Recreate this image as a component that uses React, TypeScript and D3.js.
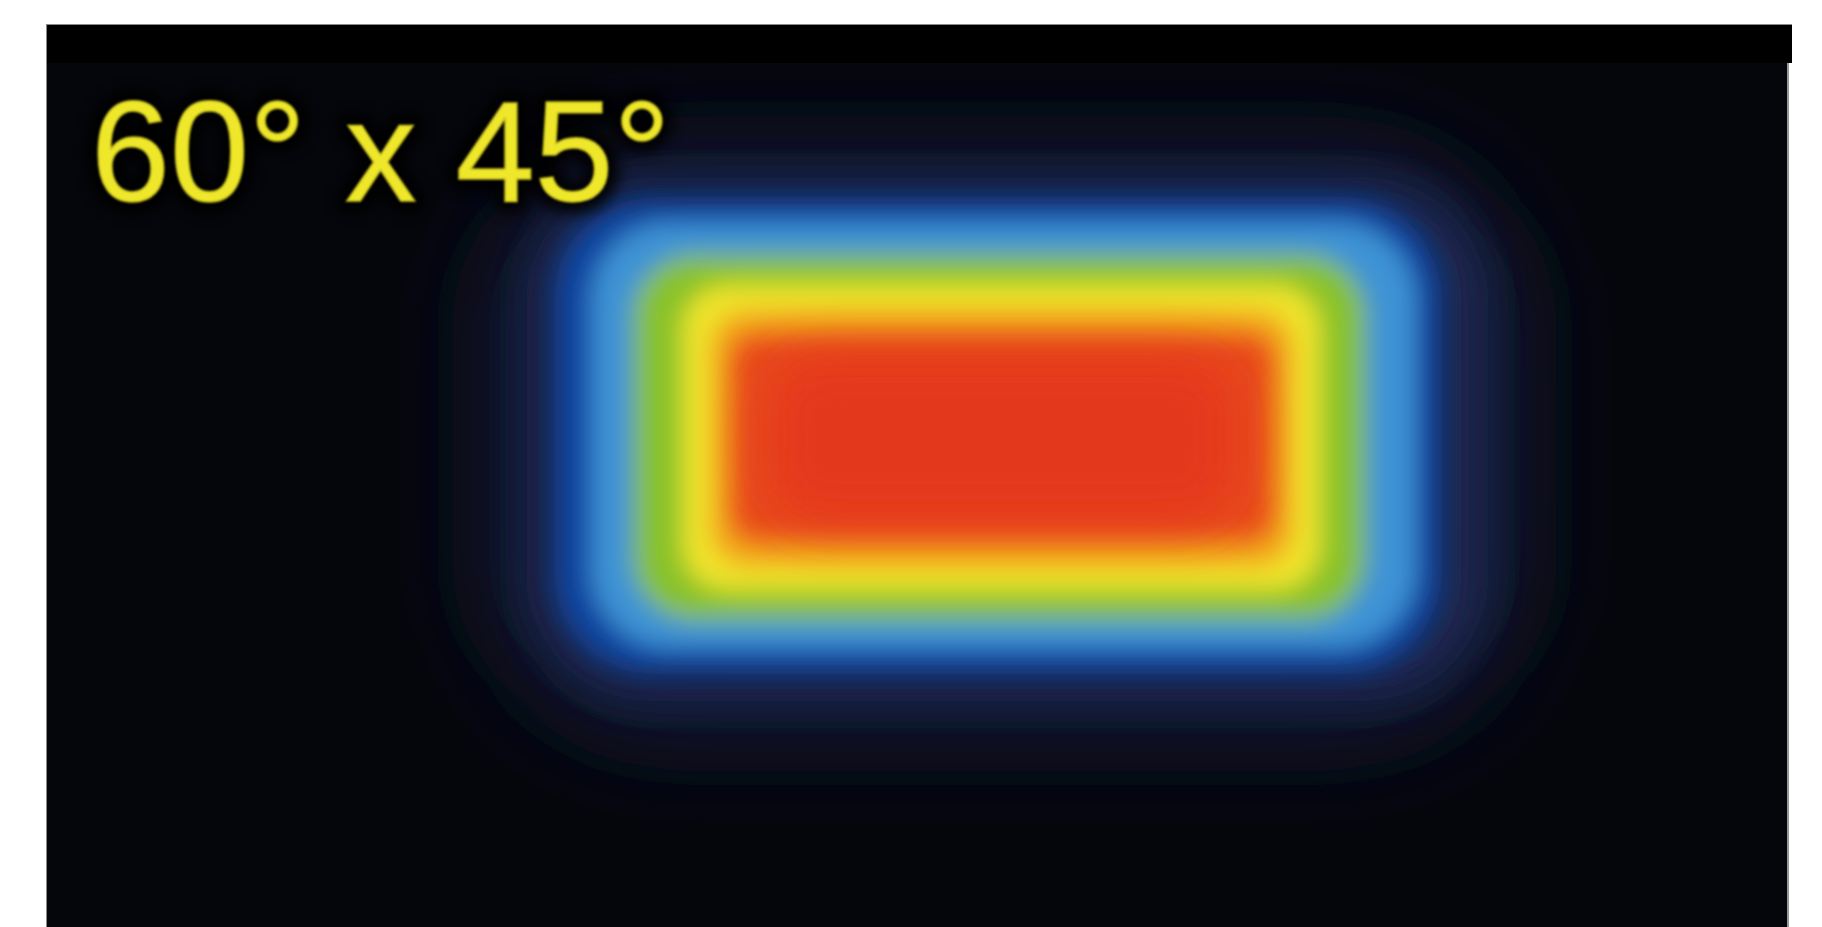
import React from 'react';
import * as d3 from 'd3';

// Beam profile label
const title = '60° x 45°';

// Intensity contour levels (relative) and their extents in degrees
const levels = [0.03, 0.07, 0.15, 0.3, 0.5, 0.7, 0.8, 0.9, 1.0];
const leftDeg = [-48.5, -45.0, -42.3, -38.9, -35.0, -30.4, -27.8, -26.0, -22.5];
const rightDeg = [48.0, 45.0, 40.5, 38.2, 33.5, 29.3, 26.8, 25.1, 21.5];
const topDeg = [43.0, 39.5, 36.1, 32.8, 28.0, 23.6, 19.8, 16.5, 13.5];
const bottomDeg = [-42.5, -37.8, -33.4, -29.9, -25.8, -21.4, -17.9, -14.3, -11.5];

const W = 1822;
const H = 927;
const FX0 = 46, FX1 = 1787, FY0 = 24, FY1 = 927;

const x = d3.scaleLinear().domain([-90, 73]).range([FX0, FX1]);
const y = d3.scaleLinear().domain([62, -71]).range([FY0, FY1]);

const color = d3
  .scaleLinear<string>()
  .domain([0, 0.03, 0.07, 0.15, 0.3, 0.5, 0.7, 0.8, 0.9, 1])
  .range(['#05060b', '#161d3e', '#1c2550', '#1144a0', '#3c93d5', '#88c22a', '#f0e52c', '#f3a21e', '#e84c1c', '#e4341a'])
  .interpolate(d3.interpolateRgb);

const radius = d3
  .scaleLinear()
  .domain([0.03, 0.07, 0.15, 0.3, 0.5, 0.7, 0.9, 1])
  .range([170, 120, 95, 78, 62, 45, 30, 50]);

const blurOf = (v: number) => (v < 0.05 ? 55 : v < 0.1 ? 22 : v < 0.95 ? 12 : 25);

const contours = levels.map((v, i) => ({
  v,
  x0: x(leftDeg[i]),
  x1: x(rightDeg[i]),
  y0: y(topDeg[i]),
  y1: y(bottomDeg[i]),
}));

export default function App() {
  const outer = contours.filter((c) => c.v < 0.1);
  const bands = contours.filter((c) => c.v >= 0.1 && c.v < 0.95);
  const core = contours.filter((c) => c.v >= 0.95);
  const rr = (c: typeof contours[number], extra: any = {}) => (
    <rect
      key={c.v}
      x={c.x0}
      y={c.y0}
      width={c.x1 - c.x0}
      height={c.y1 - c.y0}
      rx={radius(c.v)}
      fill={color(c.v)}
      {...extra}
    />
  );
  return (
    <svg
      width={W}
      height={H}
      style={{ position: 'absolute', left: 0, top: 0, background: '#ffffff' }}
    >
      <defs>
        <clipPath id="frame">
          <rect x={FX0} y={FY0} width={FX1 - FX0} height={FY1 - FY0} />
        </clipPath>
        {levels.map((v, i) => (
          <filter key={i} id={`blur${i}`} x="-50%" y="-50%" width="200%" height="200%">
            <feGaussianBlur stdDeviation={blurOf(v)} />
          </filter>
        ))}
        <filter id="band" x="-20%" y="-20%" width="140%" height="140%">
          <feGaussianBlur stdDeviation="12" />
        </filter>
        <filter id="tshadow" x="-20%" y="-50%" width="140%" height="200%">
          <feGaussianBlur stdDeviation="7" />
        </filter>
        <filter id="tsoft">
          <feGaussianBlur stdDeviation="0.9" />
        </filter>
      </defs>

      <rect x={FX0} y={FY0} width={FX1 - FX0} height={FY1 - FY0} fill="#05060b" />
      <g clipPath="url(#frame)">
        {outer.map((c) => rr(c, { filter: `url(#blur${levels.indexOf(c.v)})` }))}
        <g filter="url(#band)">{bands.map((c) => rr(c))}</g>
        {core.map((c) => rr(c, { filter: `url(#blur${levels.indexOf(c.v)})`, opacity: 0.85 }))}
      </g>
      <rect x={FX0} y={FY0} width={1792 - FX0} height={39} fill="#000000" />
      <line x1={FX0} x2={1792} y1={FY0 + 0.5} y2={FY0 + 0.5} stroke="#8a8a8a" strokeWidth={1} />
      <line x1={FX0 + 0.5} x2={FX0 + 0.5} y1={FY0} y2={FY1} stroke="#8a8a8a" strokeWidth={1} />
      <line x1={FX1 + 1} x2={FX1 + 1} y1={63} y2={FY1} stroke="#555" strokeWidth={2} opacity={0.6} />

      <text
        x={91}
        y={201}
        fontFamily="'Liberation Sans', Arial, sans-serif"
        fontSize={142}
        fill="none"
        stroke="#000"
        strokeWidth={22}
        strokeLinejoin="round"
        filter="url(#tshadow)"
        opacity={0.9}
      >
        {title}
      </text>
      <text
        x={91}
        y={201}
        fontFamily="'Liberation Sans', Arial, sans-serif"
        fontSize={142}
        fill="#eee72c"
        stroke="#c9c21c"
        strokeWidth={1.5}
        filter="url(#tsoft)"
      >
        {title}
      </text>
    </svg>
  );
}
